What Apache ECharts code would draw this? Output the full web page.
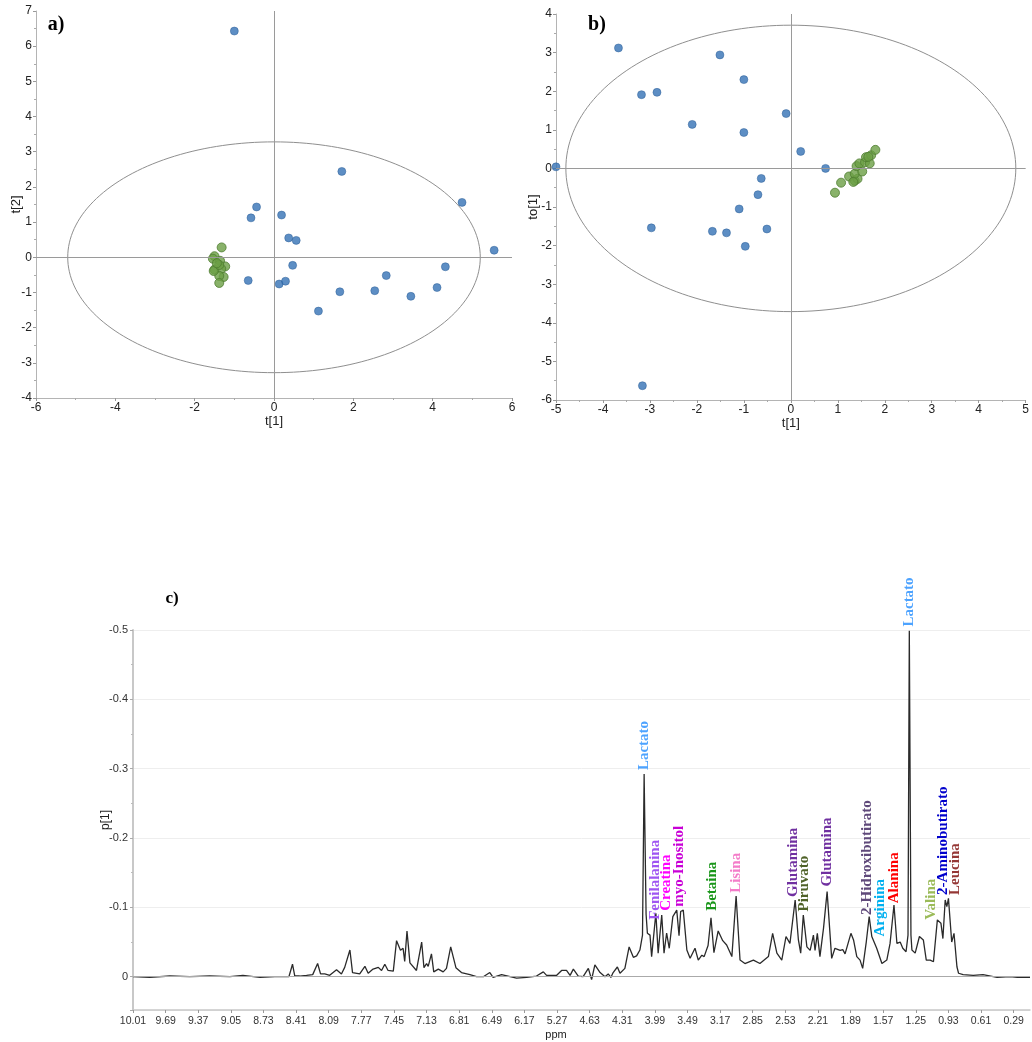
<!DOCTYPE html>
<html><head><meta charset="utf-8">
<script src="https://cdn.jsdelivr.net/npm/echarts@6/dist/echarts.min.js"></script>
<style>html,body{margin:0;padding:0;background:#fff}#c{width:1032px;height:1042px}</style>
</head><body><div id="c"></div>
<script>
// ---------- Panel a: PCA scores t[1] / t[2] ----------
const aBlue = [[-1.00,6.43],[-0.44,1.43],[-0.58,1.12],[-0.65,-0.66],[1.71,2.44],[4.74,1.56],[0.19,1.20],[0.37,0.55],[0.56,0.48],[5.55,0.20],[0.47,-0.23],[0.13,-0.76],[0.29,-0.68],[4.32,-0.27],[2.83,-0.52],[1.66,-0.98],[2.54,-0.95],[3.45,-1.11],[4.11,-0.86],[1.12,-1.53]];
const aGreen = [[-1.32,0.28],[-1.50,0.03],[-1.54,-0.04],[-1.36,-0.10],[-1.23,-0.26],[-1.50,-0.35],[-1.33,-0.33],[-1.27,-0.56],[-1.38,-0.53],[-1.52,-0.39],[-1.38,-0.73],[-1.38,-0.22],[-1.44,-0.17]];
const aEllipse = [5.2, 3.28];
// ---------- Panel b: OPLS-DA scores t[1] / to[1] ----------
const bBlue = [[-3.67,3.12],[-3.18,1.91],[-2.85,1.97],[-1.51,2.94],[-1.00,2.30],[-2.10,1.14],[-1.00,0.93],[-0.10,1.42],[-5.00,0.04],[-0.63,-0.26],[-0.70,-0.68],[-1.10,-1.05],[-2.97,-1.54],[-1.67,-1.63],[-1.37,-1.67],[-0.51,-1.57],[-0.97,-2.02],[-3.16,-5.63],[0.21,0.44],[0.74,0.00]];
const bGreen = [[0.94,-0.63],[1.07,-0.37],[1.24,-0.21],[1.36,-0.32],[1.42,-0.27],[1.36,-0.14],[1.52,-0.08],[1.40,0.06],[1.46,0.13],[1.58,0.16],[1.68,0.13],[1.60,0.29],[1.71,0.34],[1.80,0.48],[1.65,0.30],[1.33,-0.35]];
const bEllipse = [4.79, 3.71];
// ---------- Panel c: loading p[1] along spectrum variables ----------
const ppmLabels = ['10.01','9.69','9.37','9.05','8.73','8.41','8.09','7.77','7.45','7.13','6.81','6.49','6.17','5.27','4.63','4.31','3.99','3.49','3.17','2.85','2.53','2.21','1.89','1.57','1.25','0.93','0.61','0.29'];
const specPos = [0,0.51,1.13,1.74,2.35,2.97,3.37,3.89,4.35,4.78,4.89,4.96,5.11,5.32,5.51,5.66,5.75,5.88,6.03,6.24,6.39,6.49,6.65,6.73,6.95,7.11,7.21,7.36,7.52,7.62,7.72,7.82,7.98,8.08,8.20,8.28,8.33,8.40,8.49,8.69,8.85,8.92,9.00,9.05,9.15,9.22,9.36,9.51,9.61,9.74,9.80,9.90,10.07,10.33,10.53,10.74,10.94,11.04,11.30,11.56,11.76,12.07,12.37,12.58,12.68,12.99,13.14,13.29,13.40,13.50,13.65,13.80,13.96,14.06,14.16,14.32,14.47,14.57,14.65,14.72,14.85,14.93,15.08,15.21,15.34,15.44,15.54,15.62,15.67,15.73,15.77,15.85,15.90,16.03,16.10,16.21,16.28,16.36,16.44,16.55,16.60,16.67,16.74,16.79,16.87,16.98,17.08,17.23,17.33,17.44,17.51,17.63,17.72,17.81,17.94,18.08,18.20,18.36,18.49,18.61,18.76,19.02,19.22,19.48,19.61,19.74,19.89,20.02,20.14,20.30,20.40,20.47,20.55,20.66,20.76,20.86,20.91,20.98,21.06,21.17,21.28,21.42,21.52,21.68,21.76,21.83,22.01,22.09,22.19,22.29,22.37,22.48,22.57,22.65,22.80,22.96,23.11,23.21,23.33,23.42,23.52,23.60,23.70,23.76,23.80,23.85,23.88,23.98,24.11,24.23,24.32,24.44,24.54,24.66,24.77,24.83,24.90,24.95,25.00,25.10,25.17,25.26,25.31,25.45,25.76,26.06,26.49,26.89,27.11,27.50];
const specVal = [0,0.001,-0.001,0,-0.001,0,-0.002,0.001,0,0,-0.018,-0.001,-0.001,-0.002,-0.003,-0.019,-0.004,-0.004,-0.002,-0.010,-0.004,-0.0135,-0.0385,-0.006,-0.004,-0.015,-0.005,-0.011,-0.0135,-0.009,-0.018,-0.009,-0.008,-0.052,-0.038,-0.041,-0.022,-0.066,-0.020,-0.009,-0.050,-0.013,-0.019,-0.015,-0.033,-0.007,-0.011,-0.007,-0.012,-0.043,-0.042,-0.013,-0.006,-0.003,0,0,-0.006,0.001,-0.003,0,0.002,0.001,-0.001,-0.007,-0.002,-0.002,-0.009,-0.009,-0.002,-0.011,-0.001,0,-0.012,0.004,-0.017,-0.006,0,-0.004,0.001,-0.006,-0.014,-0.005,-0.012,-0.043,-0.028,-0.030,-0.0385,-0.060,-0.2925,-0.090,-0.0626,-0.060,-0.029,-0.0915,-0.034,-0.089,-0.034,-0.063,-0.041,-0.0866,-0.085,-0.096,-0.059,-0.094,-0.096,-0.0385,-0.0265,-0.041,-0.024,-0.031,-0.029,-0.045,-0.085,-0.0346,-0.066,-0.052,-0.0457,-0.029,-0.1165,-0.024,-0.019,-0.024,-0.019,-0.029,-0.0626,-0.034,-0.024,-0.058,-0.048,-0.1107,-0.053,-0.034,-0.089,-0.043,-0.038,-0.060,-0.038,-0.0626,-0.029,-0.070,-0.1227,-0.0265,-0.041,-0.038,-0.039,-0.033,-0.0626,-0.053,-0.029,-0.024,-0.012,-0.050,-0.0866,-0.058,-0.041,-0.019,-0.024,-0.048,-0.1035,-0.048,-0.050,-0.041,-0.036,-0.060,-0.499,-0.060,-0.0385,-0.034,-0.058,-0.053,-0.024,-0.024,-0.0216,-0.082,-0.077,-0.055,-0.1107,-0.101,-0.113,-0.050,-0.0626,-0.0144,-0.005,-0.003,-0.002,-0.003,0.001,0,0.001,0.001];
// metabolite annotations: name, variable position, p[1] at label foot, colour
const metNames  = ['Lactato','Fenilalanina','Creatina','myo-Inositol','Betaina','Lisina','Glutamina','Piruvato','Glutamina','2-Hidroxibutirato','Arginina','Alanina','Lactato','Valina','2-Aminobutirato','Leucina'];
const metPos    = [15.67,16.00,16.34,16.75,17.74,18.49,20.25,20.57,21.27,22.50,22.90,23.33,23.80,24.47,24.85,25.21];
const metVal    = [-0.298,-0.082,-0.095,-0.101,-0.095,-0.121,-0.115,-0.094,-0.130,-0.089,-0.058,-0.106,-0.505,-0.082,-0.118,-0.118];
const metColors = ['#4da3ff','#9f55f2','#ff00ff','#c800d6','#1a961a','#f47cc9','#7030a0','#4f6228','#7030a0','#5f497a','#00b0f0','#ff0000','#4da3ff','#9bbb59','#0000cc','#953735'];

function ellipse(r){const p=[];for(let i=0;i<=200;i++){const t=i/200*2*Math.PI;p.push([r[0]*Math.cos(t),r[1]*Math.sin(t)]);}return p;}

const FONT='Liberation Sans';
const axisCommon = {
  axisLine:{show:true,onZero:false,lineStyle:{color:'#b4b4b4'}},
  axisTick:{show:true,length:3,lineStyle:{color:'#999'}},
  minorTick:{show:true,splitNumber:2,length:2,lineStyle:{color:'#aaa'}},
  splitLine:{show:false},
  axisLabel:{fontFamily:FONT,fontSize:12,color:'#222',margin:4},
  nameLocation:'middle',
  nameMoveOverlap:false,
  nameTextStyle:{fontFamily:FONT,fontSize:13,color:'#222'}
};
function ax(o){return Object.assign({},JSON.parse(JSON.stringify(axisCommon)),o);}
const zeroLines = {silent:true,symbol:'none',label:{show:false},lineStyle:{color:'#9a9a9a',width:1,type:'solid'},data:[{xAxis:0},{yAxis:0}],animation:false};
const blueStyle={color:'#3572b5',borderColor:'#2a5c95',borderWidth:0.6};
const greenStyle={color:'#6b9f45',borderColor:'#4f7d31',borderWidth:1};

const chart = echarts.init(document.getElementById('c'));
const option = {
  animation:false,
  backgroundColor:'#fff',
  grid:[
    {left:36,right:520,top:11,bottom:644},
    {left:556,right:1,top:14,bottom:642},
    {left:133,right:2,top:630,bottom:32}
  ],
  xAxis:[
    ax({gridIndex:0,type:'value',min:-6,max:6,interval:2,name:'t[1]',nameGap:17}),
    ax({gridIndex:1,type:'value',min:-5,max:5,interval:1,name:'t[1]',nameGap:17}),
    {gridIndex:2,type:'value',min:0,max:27.5,interval:1,
     axisLine:{show:true,onZero:false,lineStyle:{color:'#c8c8c8',width:1.5}},
     axisTick:{show:true,length:3,lineStyle:{color:'#999'}},
     splitLine:{show:false},
     axisLabel:{fontFamily:FONT,fontSize:10.5,color:'#333',margin:6,showMaxLabel:false,
       formatter:v=>{const i=Math.round(v);return Math.abs(v-i)<1e-6&&ppmLabels[i]!==undefined?ppmLabels[i]:'';}}}
  ],
  yAxis:[
    ax({gridIndex:0,type:'value',min:-4,max:7,interval:1,name:'t[2]',nameGap:13}),
    ax({gridIndex:1,type:'value',min:-6,max:4,interval:1,name:'to[1]',nameGap:16}),
    {gridIndex:2,type:'value',min:-0.5,max:0.048,interval:0.1,inverse:true,
     name:'p[1]',nameLocation:'middle',nameGap:21,nameMoveOverlap:false,nameTextStyle:{fontFamily:FONT,fontSize:12,color:'#222'},
     axisLine:{show:true,onZero:false,lineStyle:{color:'#c8c8c8',width:2}},
     axisTick:{show:true,length:3,lineStyle:{color:'#aaa'}},
     minorTick:{show:true,splitNumber:2,length:2,lineStyle:{color:'#bbb'}},
     splitLine:{show:true,lineStyle:{color:'#eeeeee'}},
     axisLabel:{fontFamily:FONT,fontSize:11,color:'#333',margin:5,showMaxLabel:false,
       formatter:v=>{if(Math.abs(v)<1e-9)return '0';if(v>0)return '';return v.toFixed(1);}}}
  ],
  series:[
    {type:'line',xAxisIndex:0,yAxisIndex:0,data:ellipse(aEllipse),showSymbol:false,symbol:'none',silent:true,
     lineStyle:{color:'#8f8f8f',width:1},z:1,markLine:zeroLines},
    {type:'scatter',xAxisIndex:0,yAxisIndex:0,data:aGreen,symbolSize:9,itemStyle:greenStyle,z:3},
    {type:'scatter',xAxisIndex:0,yAxisIndex:0,data:aBlue,symbolSize:8,itemStyle:blueStyle,z:4},
    {type:'line',xAxisIndex:1,yAxisIndex:1,data:ellipse(bEllipse),showSymbol:false,symbol:'none',silent:true,
     lineStyle:{color:'#8f8f8f',width:1},z:1,markLine:zeroLines},
    {type:'scatter',xAxisIndex:1,yAxisIndex:1,data:bGreen,symbolSize:9,itemStyle:greenStyle,z:3},
    {type:'scatter',xAxisIndex:1,yAxisIndex:1,data:bBlue,symbolSize:8,itemStyle:blueStyle,z:4,clip:false},
    {type:'line',xAxisIndex:2,yAxisIndex:2,data:specPos.map((p,i)=>[p,specVal[i]]),showSymbol:false,symbol:'none',
     lineStyle:{color:'#2a2a2a',width:1.3},z:3,
     markLine:{silent:true,symbol:'none',label:{show:false},lineStyle:{color:'#aaaaaa',width:1,type:'solid'},data:[{yAxis:0}]}}
  ]
};
chart.setOption(option);

const g = [
  {type:'text',x:56,y:25,style:{text:'a)',font:'bold 20px "Liberation Serif"',fill:'#000',align:'center',verticalAlign:'middle'}},
  {type:'text',x:597,y:25,style:{text:'b)',font:'bold 20px "Liberation Serif"',fill:'#000',align:'center',verticalAlign:'middle'}},
  {type:'text',x:172,y:599,style:{text:'c)',font:'bold 17px "Liberation Serif"',fill:'#000',align:'center',verticalAlign:'middle'}},
  {type:'text',x:556,y:1035,style:{text:'ppm',font:'11px "Liberation Sans"',fill:'#222',align:'center',verticalAlign:'middle'}}
];
metNames.forEach((n,i)=>{
  const p = chart.convertToPixel({xAxisIndex:2,yAxisIndex:2},[metPos[i],metVal[i]]);
  g.push({type:'text',x:p[0],y:p[1],rotation:Math.PI/2,z:10,
    style:{text:n,font:'bold 15px "Liberation Serif"',fill:metColors[i],align:'left',verticalAlign:'middle'}});
});
chart.setOption({graphic:g});
</script></body></html>
